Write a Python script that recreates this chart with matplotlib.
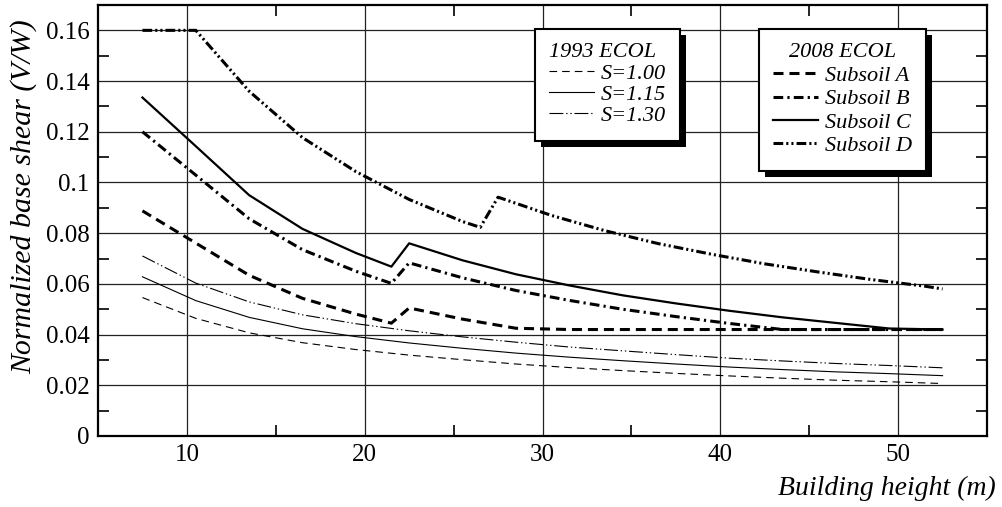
import matplotlib
matplotlib.use("Agg")
import matplotlib.pyplot as plt
from matplotlib.lines import Line2D
from matplotlib.patches import Rectangle
from matplotlib.ticker import MultipleLocator, FixedLocator

plt.rcParams['font.family'] = ['Liberation Serif', 'DejaVu Serif']
plt.rcParams['lines.scale_dashes'] = False

# ---------------- data ----------------
h_1993 = [7.5, 10.5, 13.5, 16.5, 19.5, 22.5, 25.5, 28.5, 31.5, 34.5, 37.5,
          40.5, 43.5, 46.5, 49.5, 52.5]
s100 = [0.0546, 0.0464, 0.0407, 0.0368, 0.0341, 0.0319, 0.0301, 0.0284,
        0.0270, 0.0258, 0.0247, 0.0237, 0.0228, 0.0220, 0.0214, 0.0207]
s115 = [0.0628, 0.0534, 0.0468, 0.0423, 0.0392, 0.0367, 0.0346, 0.0327,
        0.0311, 0.0297, 0.0284, 0.0272, 0.0262, 0.0253, 0.0246, 0.0238]
s130 = [0.0710, 0.0603, 0.0529, 0.0478, 0.0443, 0.0415, 0.0391, 0.0370,
        0.0351, 0.0336, 0.0321, 0.0307, 0.0296, 0.0286, 0.0278, 0.0269]

h_2008 = [7.5, 10.5, 13.5, 16.5, 19.5, 21.5, 22.5, 25.5, 28.5, 31.5, 34.5,
          37.5, 40.5, 43.5, 46.5, 49.5, 52.5]
subsoil_a = [0.0888, 0.0761, 0.0634, 0.0543, 0.0481, 0.0445, 0.0505, 0.0461,
             0.0425, 0.0420, 0.0420, 0.0420, 0.0420, 0.0420, 0.0420, 0.0420, 0.0420]
subsoil_b = [0.1200, 0.1029, 0.0857, 0.0735, 0.0650, 0.0602, 0.0683, 0.0624,
             0.0574, 0.0535, 0.0500, 0.0471, 0.0444, 0.0420, 0.0420, 0.0420, 0.0420]
subsoil_c = [0.1335, 0.1143, 0.0950, 0.0817, 0.0722, 0.0668, 0.0760, 0.0693,
             0.0638, 0.0594, 0.0555, 0.0523, 0.0494, 0.0468, 0.0446, 0.0424, 0.0420]

h_d = [7.5, 10.5, 13.5, 16.5, 19.5, 22.5, 25.5, 26.5, 27.5, 30.5, 33.5, 36.5,
       39.5, 42.5, 45.5, 48.5, 51.5, 52.5]
subsoil_d = [0.160, 0.160, 0.136, 0.1177, 0.1043, 0.0933, 0.0846, 0.0823,
             0.0942, 0.0870, 0.0810, 0.0759, 0.0717, 0.0679, 0.0647, 0.0617,
             0.0591, 0.0580]

x_ticks = [10, 20, 30, 40, 50]
y_ticks = [0, 0.02, 0.04, 0.06, 0.08, 0.10, 0.12, 0.14, 0.16]
y_labels = ['0', '0.02', '0.04', '0.06', '0.08', '0.1', '0.12', '0.14', '0.16']

legend1_title = '1993 ECOL'
legend1_labels = ['S=1.00', 'S=1.15', 'S=1.30']
legend2_title = '2008 ECOL'
legend2_labels = ['Subsoil A', 'Subsoil B', 'Subsoil C', 'Subsoil D']

# ---------------- styles ----------------
thin = 0.8
thick = 2.2
st_s100 = dict(color='black', lw=thin, ls=(0, (5.5, 3.6)))
st_s115 = dict(color='black', lw=thin, ls='-')
st_s130 = dict(color='black', lw=thin, ls=(0, (10, 2, 1, 2, 1, 2)))
st_a = dict(color='black', lw=thick, ls=(0, (7.2, 4.3)))
st_b = dict(color='black', lw=thick, ls=(0, (7, 3, 1.6, 3)))
st_c = dict(color='black', lw=1.6, ls='-')
st_d = dict(color='black', lw=thick, ls=(0, (7, 2.2, 1.5, 2.2, 1.5, 2.2)))

W, H = 1002, 507
fig = plt.figure(figsize=(W / 100, H / 100), dpi=100)
ax = fig.add_axes([98 / W, 1 - 436 / H, (987 - 98) / W, (436 - 5) / H])

ax.plot(h_1993, s100, **st_s100)
ax.plot(h_1993, s115, **st_s115)
ax.plot(h_1993, s130, **st_s130)
ax.plot(h_2008, subsoil_a, **st_a)
ax.plot(h_2008, subsoil_b, **st_b)
ax.plot(h_2008, subsoil_c, **st_c)
ax.plot(h_d, subsoil_d, **st_d)

ax.set_xlim(5, 55)
ax.set_ylim(0, 0.17)
ax.xaxis.set_major_locator(FixedLocator(x_ticks))
ax.yaxis.set_major_locator(FixedLocator(y_ticks))
ax.set_yticklabels(y_labels)
ax.xaxis.set_minor_locator(MultipleLocator(5))
ax.yaxis.set_minor_locator(MultipleLocator(0.01))
ax.grid(True, which='major', color='#222222', lw=0.9)
ax.tick_params(which='both', direction='in', top=True, right=True,
               labelsize=18, pad=6)
ax.tick_params(which='major', length=0)
ax.tick_params(which='minor', length=8, width=1.2)
for sp in ax.spines.values():
    sp.set_linewidth(1.6)

fig.text(24 / W, 1 - 197 / H, 'Normalized base shear (V/W)', rotation=90,
         ha='center', va='center', fontsize=21.5, style='italic')
fig.text(996 / W, 1 - 488 / H, 'Building height (m)', ha='right',
         va='center', fontsize=20, style='italic')

# ---------------- legends ----------------
leg_font = dict(size=16, style='italic', family='Liberation Serif')
h1 = [Line2D([], [], **st_s100), Line2D([], [], **st_s115),
      Line2D([], [], **st_s130)]
leg1 = ax.legend(h1, legend1_labels, title=legend1_title, prop=leg_font,
                 title_fontproperties=leg_font, loc='upper left',
                 bbox_to_anchor=(535 / W, 1 - 29 / H), bbox_transform=fig.transFigure,
                 frameon=True, fancybox=False, edgecolor='black', framealpha=1,
                 handlelength=2.0, handletextpad=0.3, labelspacing=0.03,
                 borderpad=0.65, alignment='left', borderaxespad=0)
leg1.get_frame().set_linewidth(1.5)
ax.add_artist(leg1)

h2 = [Line2D([], [], **st_a), Line2D([], [], **st_b),
      Line2D([], [], **st_c), Line2D([], [], **st_d)]
leg2 = ax.legend(h2, legend2_labels, title=legend2_title, prop=leg_font,
                 title_fontproperties=leg_font, loc='upper left',
                 bbox_to_anchor=(759 / W, 1 - 29 / H), bbox_transform=fig.transFigure,
                 frameon=True, fancybox=False, edgecolor='black', framealpha=1,
                 handlelength=2.0, handletextpad=0.3, labelspacing=0.13,
                 borderpad=0.65, alignment='center', borderaxespad=0)
leg2.get_frame().set_linewidth(1.5)

fig.canvas.draw()
inv = fig.transFigure.inverted()
for lg in (leg1, leg2):
    bb = lg.get_window_extent()
    (x0, y0), (x1, y1) = inv.transform([[bb.x0 + 6, bb.y0 - 6], [bb.x1 + 6, bb.y1 - 6]])
    r = Rectangle((x0, y0), x1 - x0, y1 - y0, transform=fig.transFigure,
                  facecolor='black', edgecolor='none', zorder=4.9, clip_on=False)
    ax.add_artist(r)

fig.savefig('out.png', dpi=100)
